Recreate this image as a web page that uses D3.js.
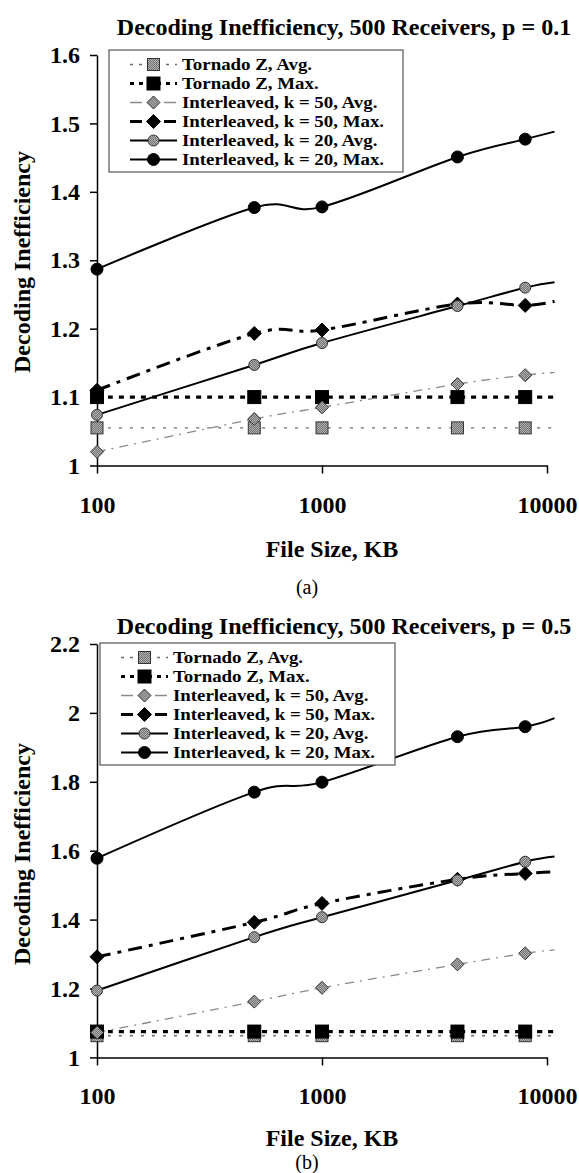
<!DOCTYPE html>
<html><head><meta charset="utf-8">
<script src="https://cdn.jsdelivr.net/npm/d3@7"></script>
<style>
body{margin:0;background:#fff}
svg{display:block}
text{font-family:"Liberation Serif","Times New Roman",serif}
</style>
</head><body>
<svg id="c" width="579" height="1173"></svg>
<script>
// ---------- data ----------
const fileSizes = [100, 500, 1000, 4000, 8000, 10800];
const markedPoints = 5;
const seriesLabels = [
  "Tornado Z, Avg.",
  "Tornado Z, Max.",
  "Interleaved, k = 50, Avg.",
  "Interleaved, k = 50, Max.",
  "Interleaved, k = 20, Avg.",
  "Interleaved, k = 20, Max."
];
const xTicks = [100, 1000, 10000];
const xTickLabels = ["100", "1000", "10000"];

const yTicksA = [1, 1.1, 1.2, 1.3, 1.4, 1.5, 1.6];
const yTickLabelsA = ["1", "1.1", "1.2", "1.3", "1.4", "1.5", "1.6"];
const yTicksB = [1, 1.2, 1.4, 1.6, 1.8, 2, 2.2];
const yTickLabelsB = ["1", "1.2", "1.4", "1.6", "1.8", "2", "2.2"];

// (a) p = 0.1
const tornadoAvgA = [1.055, 1.055, 1.055, 1.055, 1.055, 1.055];
const tornadoMaxA = [1.100, 1.100, 1.100, 1.100, 1.100, 1.100];
const k50AvgA     = [1.020, 1.068, 1.085, 1.119, 1.132, 1.136];
const k50MaxA     = [1.110, 1.193, 1.198, 1.236, 1.234, 1.240];
const k20AvgA     = [1.074, 1.147, 1.179, 1.233, 1.260, 1.268];
const k20MaxA     = [1.287, 1.377, 1.378, 1.451, 1.477, 1.488];

// (b) p = 0.5
const tornadoAvgB = [1.063, 1.063, 1.063, 1.063, 1.063, 1.063];
const tornadoMaxB = [1.075, 1.075, 1.075, 1.075, 1.075, 1.075];
const k50AvgB     = [1.072, 1.162, 1.202, 1.270, 1.302, 1.312];
const k50MaxB     = [1.292, 1.392, 1.447, 1.517, 1.534, 1.539];
const k20AvgB     = [1.194, 1.349, 1.407, 1.514, 1.568, 1.583];
const k20MaxB     = [1.578, 1.770, 1.799, 1.931, 1.960, 1.985];

// ---------- styles ----------
const styles = [
  {stroke:"#6a6a6a", width:1.4, dash:"3,8",      legDash:"3,6",  marker:"square",  fill:"url(#tex)", mstroke:"#333", msize:12},
  {stroke:"#000",    width:3.2, dash:"5,6",      legDash:"4,5",  marker:"square",  fill:"#000",      mstroke:"#000", msize:13},
  {stroke:"#8a8a8a", width:1.3, dash:"9,6,2,6",  legDash:"12,5", marker:"diamond", fill:"url(#tex)", mstroke:"#333", msize:6.5},
  {stroke:"#000",    width:3.0, dash:"14,7,4,7", legDash:"12,5", marker:"diamond", fill:"#000",      mstroke:"#000", msize:7},
  {stroke:"#000",    width:2.0, dash:null,       legDash:null,   marker:"circle",  fill:"url(#tex)", mstroke:"#333", msize:5.5},
  {stroke:"#000",    width:2.0, dash:null,       legDash:null,   marker:"circle",  fill:"#000",      mstroke:"#000", msize:6}
];

const svg = d3.select("#c");
const defs = svg.append("defs");
const pat = defs.append("pattern").attr("id","tex").attr("width",2).attr("height",2)
  .attr("patternUnits","userSpaceOnUse");
pat.append("rect").attr("width",2).attr("height",2).attr("fill","#737373");
pat.append("rect").attr("width",1).attr("height",1).attr("fill","#b0b0b0");
pat.append("rect").attr("x",1).attr("y",1).attr("width",1).attr("height",1).attr("fill","#b0b0b0");

function drawMarker(g, type, cx, cy, s, fill, stroke) {
  if (type === "square") {
    g.append("rect").attr("x", cx - s/2).attr("y", cy - s/2).attr("width", s).attr("height", s)
      .attr("fill", fill).attr("stroke", stroke).attr("stroke-width", 1);
  } else if (type === "diamond") {
    g.append("path").attr("d", `M${cx},${cy-s}L${cx+s},${cy}L${cx},${cy+s}L${cx-s},${cy}Z`)
      .attr("fill", fill).attr("stroke", stroke).attr("stroke-width", 1);
  } else {
    g.append("circle").attr("cx", cx).attr("cy", cy).attr("r", s)
      .attr("fill", fill).attr("stroke", stroke).attr("stroke-width", 1);
  }
}

function drawChart(cfg) {
  const g = svg.append("g");
  const x = d3.scaleLog().domain([100, 10000]).range([97, 547]);
  const y = d3.scaleLinear().domain(cfg.yDomain).range([cfg.yBottom, cfg.yTop]);

  // title
  g.append("text").attr("x", 344).attr("y", cfg.titleY).attr("text-anchor","middle")
    .attr("font-size", 24).attr("font-weight","bold").text(cfg.title);

  // axes
  const yAxis = d3.axisLeft(y).tickValues(cfg.yTicks)
    .tickFormat((d,i) => cfg.yLabels[i]).tickSize(7).tickSizeOuter(0).tickPadding(10);
  const ya = g.append("g").attr("transform","translate(97,0)").call(yAxis);
  const xAxis = d3.axisBottom(x).tickValues(xTicks)
    .tickFormat((d,i) => xTickLabels[i]).tickSize(8).tickSizeOuter(0).tickPadding(22);
  const xa = g.append("g").attr("transform",`translate(0,${cfg.yBottom})`).call(xAxis);
  [ya, xa].forEach(a => {
    a.selectAll("path,line").attr("stroke","#000").attr("stroke-width",1.5);
    a.selectAll("text").attr("font-size",24).attr("font-weight","bold")
      .attr("font-family",'"Liberation Serif","Times New Roman",serif').attr("fill","#000");
  });

  // axis titles
  g.append("text").attr("transform",`translate(30,${cfg.yLabelY}) rotate(-90)`)
    .attr("text-anchor","middle").attr("font-size",24).attr("font-weight","bold")
    .text("Decoding Inefficiency");
  g.append("text").attr("x", 332).attr("y", cfg.xLabelY).attr("text-anchor","middle")
    .attr("font-size",24).attr("font-weight","bold").text("File Size, KB");
  g.append("text").attr("x", 307).attr("y", cfg.captionY).attr("text-anchor","middle")
    .attr("font-size",20).text(cfg.caption);

  // series
  const line = d3.line().x(d => x(d[0])).y(d => y(d[1])).curve(d3.curveCatmullRom.alpha(0));
  cfg.series.forEach((vals, si) => {
    const st = styles[si];
    const pts = fileSizes.map((f,i) => [f, vals[i]]);
    const p = g.append("path").attr("d", line(pts)).attr("fill","none")
      .attr("stroke", st.stroke).attr("stroke-width", st.width);
    if (st.dash) p.attr("stroke-dasharray", st.dash);
  });
  cfg.series.forEach((vals, si) => {
    const st = styles[si];
    for (let i = 0; i < markedPoints; i++) {
      drawMarker(g, st.marker, x(fileSizes[i]), y(vals[i]), st.msize, st.fill, st.mstroke);
    }
  });

  // legend
  const rowH = 19;
  const lg = g.append("g").attr("transform",`translate(${cfg.legX},${cfg.legY})`);
  lg.append("rect").attr("x",0).attr("y",0).attr("width",cfg.legW).attr("height",122)
    .attr("fill","#fff").attr("stroke","#555").attr("stroke-width",1.2);
  seriesLabels.forEach((lab, i) => {
    const st = styles[i];
    const cy = 14.5 + i * rowH;
    const ln = lg.append("line").attr("x1",21).attr("x2",68).attr("y1",cy).attr("y2",cy)
      .attr("stroke", st.stroke).attr("stroke-width", st.width);
    if (st.legDash) ln.attr("stroke-dasharray", st.legDash);
    drawMarker(lg, st.marker, 44.5, cy, st.msize, st.fill, st.mstroke);
    const t = lg.append("text").attr("x", 73).attr("y", cy + 5.8).attr("font-size",17)
      .attr("font-weight","bold").text(lab);
    const w = t.node().getComputedTextLength();
    t.attr("textLength", w * 1.11).attr("lengthAdjust","spacingAndGlyphs");
  });
}

drawChart({
  title: "Decoding Inefficiency, 500 Receivers, p = 0.1",
  titleY: 35, yDomain:[1,1.6], yBottom:465.5, yTop:55,
  yTicks: yTicksA, yLabels: yTickLabelsA,
  yLabelY: 262, xLabelY: 557, captionY: 594, caption: "(a)",
  legX: 109, legY: 50, legW: 294,
  series: [tornadoAvgA, tornadoMaxA, k50AvgA, k50MaxA, k20AvgA, k20MaxA]
});
drawChart({
  title: "Decoding Inefficiency, 500 Receivers, p = 0.5",
  titleY: 634, yDomain:[1,2.2], yBottom:1057.4, yTop:644,
  yTicks: yTicksB, yLabels: yTickLabelsB,
  yLabelY: 854, xLabelY: 1146, captionY: 1169, caption: "(b)",
  legX: 100, legY: 643, legW: 295,
  series: [tornadoAvgB, tornadoMaxB, k50AvgB, k50MaxB, k20AvgB, k20MaxB]
});
</script>
</body></html>
